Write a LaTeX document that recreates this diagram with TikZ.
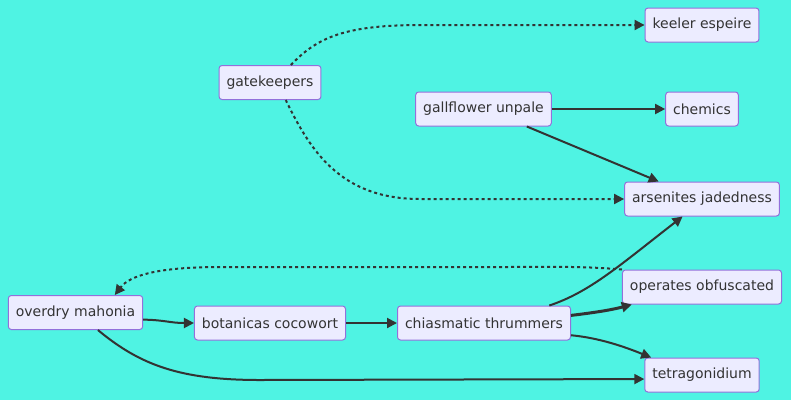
\documentclass[tikz,border=0pt]{standalone}
\usepackage{fontspec}
\setmainfont{DejaVu Sans}
\usetikzlibrary{arrows.meta}

\definecolor{fondo}{HTML}{4FF3E3}
\definecolor{cajafill}{HTML}{ECECFF}
\definecolor{cajaline}{HTML}{9370DB}
\definecolor{trazo}{HTML}{333333}

\tikzset{
    caja/.style={draw=cajaline, fill=cajafill, line width=1pt,
        rounded corners=3pt, minimum height=34pt, inner xsep=7.5pt,
        inner ysep=0pt, text=trazo, font=\fontsize{14}{17}\selectfont},
    flecha/.style={->, draw=trazo, line width=2pt},
    punteada/.style={flecha, dash pattern=on 3pt off 3pt}
}

\begin{document}
\begin{tikzpicture}[x=1pt, y=-1pt,
    >={Triangle[length=10pt, width=10pt]}]

    % Fondo
    \fill[fondo] (0,0) rectangle (791,400);
    \useasboundingbox (0,0) rectangle (791,400);

    % Nodos
    \node[caja] (gk)  at (270,82.5) {gatekeepers};
    \node[caja] (gf)  at (483.5,109) {gallflower unpale};
    \node[caja] (ke)  at (702,25)   {keeler espeire};
    \node[caja] (ch)  at (702,109)  {chemics};
    \node[caja] (ars) at (702,199)  {arsenites jadedness};
    \node[caja] (op)  at (702,287)  {operates obfuscated};
    \node[caja] (tet) at (702,375)  {tetragonidium};
    \node[caja] (om)  at (75.5,312.5) {overdry mahonia};
    \node[caja] (bc)  at (270,323)  {botanicas cocowort};
    \node[caja] (ct)  at (484,323)  {chiasmatic thrummers};

    % Aristas punteadas
    \draw[punteada] (gk.40) .. controls (315,40) and (340,25) .. (420,25)
        -- (ke.west);
    \draw[punteada] (gk.-48) .. controls (310,150) and (340,199) .. (420,199)
        -- (ars.west);
    \draw[punteada] (op.north west) .. controls (580,266) and (560,267) .. (500,267)
        -- (220,267) .. controls (160,267) and (130,275) .. (om.24);

    % Aristas continuas
    \draw[flecha] (gf.east) -- (ch.west);
    \draw[flecha] (gf.-22) -- (ars.158);
    \draw[flecha] (om.-6) .. controls (165,320) and (170,323) .. (bc.west);
    \draw[flecha] (bc.east) -- (ct.west);
    \draw[flecha] (om.-38) .. controls (140,365) and (180,380) .. (260,380)
        -- (tet.-176);
    \draw[flecha] (ct.15) .. controls (590,292) and (620,265) .. (ars.-138);
    \draw[flecha, line width=3pt] (ct.5) .. controls (600,312) and (615,309) .. (op.-166);
    \draw[flecha] (ct.-8) .. controls (600,338) and (625,347) .. (tet.161);
\end{tikzpicture}
\end{document}
